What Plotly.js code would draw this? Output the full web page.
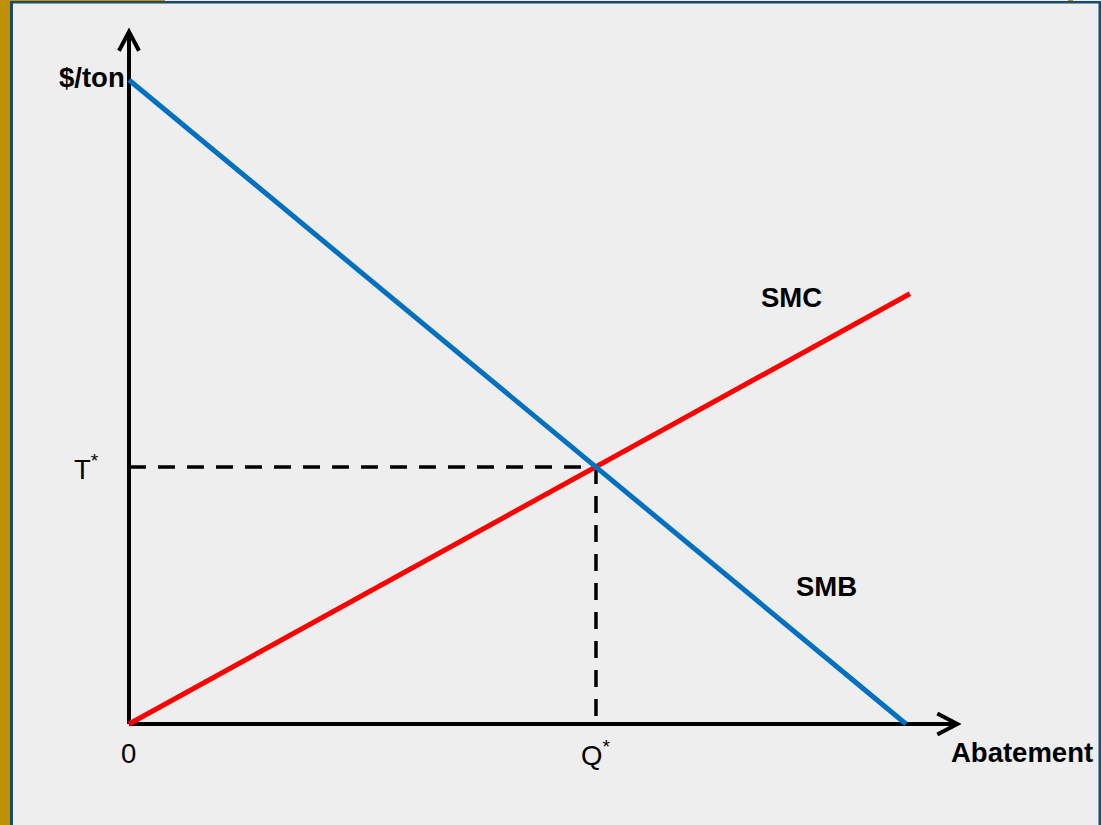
<!DOCTYPE html>
<html>
<head>
<meta charset="utf-8">
<script src="https://cdn.plot.ly/plotly-3.0.1.min.js"></script>
<style>html,body{margin:0;padding:0;background:#eeeeee;}#chart{width:1101px;height:825px;}</style>
</head>
<body>
<div id="chart"></div>
<script>
// ---- data ----
const smbX = [0, 10];
const smbY = [10, 0];
const smcX = [0, 10.05];
const smcY = [0, 6.68];
const qStar = 6.01;
const tStar = 3.99;
const xAxisEnd = 10.66;
const yAxisEnd = 10.75;
const curveLabels = ["SMC", "SMB"];
const tickLabels = ["0", "Q<sup>*</sup>", "T<sup>*</sup>"];
const axisLabels = ["$/ton", "Abatement"];

const W = 1101, H = 825;
const FONT = "Liberation Sans, Arial, sans-serif";
const FS = 27.5;

const traces = [
  // dashed guides
  {x: [0, qStar], y: [tStar, tStar], mode: "lines", line: {color: "#000", width: 3.5, dash: "17px,12px"}, hoverinfo: "skip"},
  {x: [qStar, qStar], y: [tStar, 0], mode: "lines", line: {color: "#000", width: 3.5, dash: "17px,12px"}, hoverinfo: "skip"},
  // axes
  {x: [0, 0], y: [0, yAxisEnd], mode: "lines", line: {color: "#000", width: 4}, hoverinfo: "skip"},
  {x: [0, xAxisEnd], y: [0, 0], mode: "lines", line: {color: "#000", width: 4}, hoverinfo: "skip"},
  // curves
  {x: smcX, y: smcY, mode: "lines", line: {color: "#ff0000", width: 5}, hoverinfo: "skip"},
  {x: smbX, y: smbY, mode: "lines", line: {color: "#0070c0", width: 5}, hoverinfo: "skip"}
];

const gold = "#bf9000", navy = "#1d4a6b";
const shapes = [
  // frame decoration
  {type: "rect", xref: "paper", yref: "paper", x0: 0, x1: 10/W, y0: 0, y1: 1, fillcolor: gold, line: {width: 0}},
  {type: "rect", xref: "paper", yref: "paper", x0: 0, x1: 165/W, y0: 1 - 1.2/H, y1: 1, fillcolor: gold, line: {width: 0}},
  {type: "rect", xref: "paper", yref: "paper", x0: 1068/W, x1: 1073/W, y0: 1 - 1.2/H, y1: 1, fillcolor: gold, line: {width: 0}},
  {type: "rect", xref: "paper", yref: "paper", x0: 10/W, x1: 13/W, y0: 0, y1: 1 - 1/H, fillcolor: navy, line: {width: 0}},
  {type: "rect", xref: "paper", yref: "paper", x0: 10/W, x1: 1, y0: 1 - 3.5/H, y1: 1 - 1/H, fillcolor: navy, line: {width: 0}},
  {type: "rect", xref: "paper", yref: "paper", x0: 1098.5/W, x1: 1, y0: 0, y1: 1 - 1/H, fillcolor: navy, line: {width: 0}},
  // arrow heads (open chevrons)
  {type: "path", xref: "x", yref: "y", xsizemode: "pixel", ysizemode: "pixel", xanchor: 0, yanchor: yAxisEnd,
   path: "M -10,-19 L 0,0 L 10,-19", line: {color: "#000", width: 4}},
  {type: "path", xref: "x", yref: "y", xsizemode: "pixel", ysizemode: "pixel", xanchor: xAxisEnd, yanchor: 0,
   path: "M -20,10.5 L 0,0 L -20,-10.5", line: {color: "#000", width: 4}}
];

const boldFont = {family: FONT, size: FS, color: "#000", weight: "bold"};
const regFont = {family: FONT, size: FS, color: "#000"};
const annotations = [
  {x: 0, y: smbY[0], text: "<b>" + axisLabels[0] + "</b>", showarrow: false, xanchor: "right", yanchor: "middle", xshift: -2, yshift: 3, font: boldFont},
  {x: xAxisEnd, y: 0, text: "<b>" + axisLabels[1] + "</b>", showarrow: false, xanchor: "left", yanchor: "middle", xshift: -8, yshift: -28, font: boldFont},
  {x: 0, y: 0, text: tickLabels[0], showarrow: false, xanchor: "center", yanchor: "middle", xshift: -1, yshift: -29, font: regFont},
  {x: qStar, y: 0, text: tickLabels[1], showarrow: false, xanchor: "center", yanchor: "middle", xshift: 0, yshift: -29, font: regFont},
  {x: 0, y: tStar, text: tickLabels[2], showarrow: false, xanchor: "center", yanchor: "middle", xshift: -43, yshift: 0, font: regFont},
  {x: 8.52, y: 6.63, text: "<b>" + curveLabels[0] + "</b>", showarrow: false, xanchor: "center", yanchor: "middle", font: boldFont},
  {x: 8.98, y: 2.13, text: "<b>" + curveLabels[1] + "</b>", showarrow: false, xanchor: "center", yanchor: "middle", font: boldFont}
];

const layout = {
  width: W, height: H,
  margin: {l: 0, r: 0, t: 0, b: 0, pad: 0},
  paper_bgcolor: "#eeeeee", plot_bgcolor: "#eeeeee",
  showlegend: false,
  xaxis: {range: [-129/77.7, 972/77.7], visible: false, fixedrange: true},
  yaxis: {range: [-101/64.4, 724/64.4], visible: false, fixedrange: true},
  shapes: shapes,
  annotations: annotations
};

Plotly.newPlot("chart", traces, layout, {displayModeBar: false, staticPlot: true});
</script>
</body>
</html>
